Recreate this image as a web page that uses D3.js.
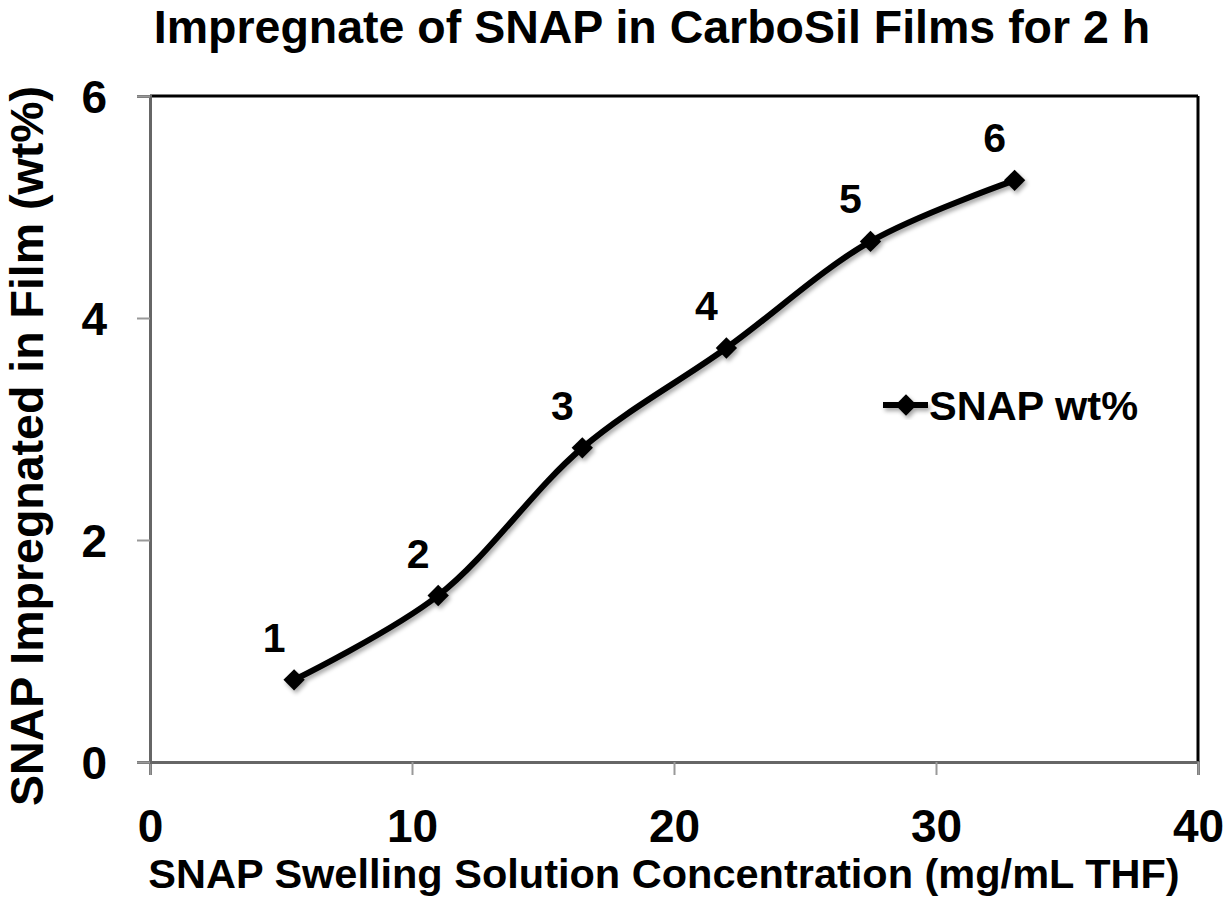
<!DOCTYPE html>
<html>
<head>
<meta charset="utf-8">
<script src="https://cdn.jsdelivr.net/npm/d3@7"></script>
<style>
  body { margin: 0; background: #fff; }
  text { font-family: "Liberation Sans", Arial, sans-serif; font-weight: bold; fill: #000; }
</style>
</head>
<body>
<div id="chart"></div>
<script>
const concentration = [5.5, 11, 16.5, 22, 27.5, 33];
const snapWt = [0.74, 1.5, 2.83, 3.73, 4.69, 5.24];
const pointLabels = ["1", "2", "3", "4", "5", "6"];
const xTicks = [0, 10, 20, 30, 40];
const yTicks = [0, 2, 4, 6];

const width = 1225, height = 900;
const margin = {top: 96, right: 27, bottom: 138, left: 150};

const svg = d3.select("#chart")
  .append("svg")
  .attr("width", width)
  .attr("height", height);

const defs = svg.append("defs");
const shadow = defs.append("filter")
  .attr("id", "shadow")
  .attr("x", "-20%").attr("y", "-20%")
  .attr("width", "140%").attr("height", "140%");
shadow.append("feDropShadow")
  .attr("dx", 2).attr("dy", 3)
  .attr("stdDeviation", 2)
  .attr("flood-color", "#000")
  .attr("flood-opacity", 0.35);

const x = d3.scaleLinear().domain([0, 40]).range([margin.left, width - margin.right]);
const y = d3.scaleLinear().domain([0, 6]).range([height - margin.bottom, margin.top]);

// frame: top and right in black
svg.append("line")
  .attr("x1", x(0)).attr("x2", x(40))
  .attr("y1", y(6)).attr("y2", y(6))
  .attr("stroke", "#000").attr("stroke-width", 3);
svg.append("line")
  .attr("x1", x(40)).attr("x2", x(40))
  .attr("y1", y(6)).attr("y2", y(0))
  .attr("stroke", "#000").attr("stroke-width", 3);

// axes
const xAxis = svg.append("g")
  .attr("transform", `translate(0,${y(0)})`)
  .call(d3.axisBottom(x).tickValues(xTicks).tickSize(13).tickPadding(34).tickFormat(d3.format("d")));
const yAxis = svg.append("g")
  .attr("transform", `translate(${x(0)},0)`)
  .call(d3.axisLeft(y).tickValues(yTicks).tickSize(13).tickPadding(30).tickFormat(d3.format("d")));

[xAxis, yAxis].forEach(g => {
  g.select(".domain").attr("stroke", "#666").attr("stroke-width", 3);
  g.selectAll(".tick line").attr("stroke", "#999").attr("stroke-width", 2);
  g.selectAll(".tick text")
    .attr("font-family", "Liberation Sans, Arial, sans-serif")
    .attr("font-weight", "bold")
    .attr("font-size", 46)
    .attr("fill", "#000");
});
yAxis.selectAll(".tick text").attr("dy", "0.36em");

// series
const data = concentration.map((c, i) => ({x: c, y: snapWt[i], label: pointLabels[i]}));

const line = d3.line()
  .x(d => x(d.x))
  .y(d => y(d.y))
  .curve(d3.curveCatmullRom.alpha(0.5));

const series = svg.append("g").attr("filter", "url(#shadow)");

series.append("path")
  .datum(data)
  .attr("d", line)
  .attr("fill", "none")
  .attr("stroke", "#000")
  .attr("stroke-width", 6)
  .attr("stroke-linejoin", "round");

const diamond = d3.symbol().type(d3.symbolDiamond2).size(290);

series.selectAll("path.marker")
  .data(data)
  .join("path")
  .attr("class", "marker")
  .attr("d", diamond)
  .attr("transform", d => `translate(${x(d.x)},${y(d.y)})`)
  .attr("fill", "#000");

svg.selectAll("text.ptlabel")
  .data(data)
  .join("text")
  .attr("class", "ptlabel")
  .attr("x", d => x(d.x) - 20)
  .attr("y", d => y(d.y) - 28)
  .attr("text-anchor", "middle")
  .attr("font-size", 41)
  .text(d => d.label);

// legend
const legend = svg.append("g").attr("transform", "translate(883,405)");
const lg = legend.append("g").attr("filter", "url(#shadow)");
lg.append("line")
  .attr("x1", 0).attr("x2", 45)
  .attr("stroke", "#000").attr("stroke-width", 6);
lg.append("path")
  .attr("d", diamond)
  .attr("transform", "translate(23,0)")
  .attr("fill", "#000");
legend.append("text")
  .attr("x", 46)
  .attr("y", 0)
  .attr("dy", "0.36em")
  .attr("font-size", 41.5)
  .text("SNAP wt%");

// titles
svg.append("text")
  .attr("x", 652)
  .attr("y", 43)
  .attr("text-anchor", "middle")
  .attr("font-size", 46.5)
  .text("Impregnate of SNAP in CarboSil Films for 2 h");

svg.append("text")
  .attr("x", 664)
  .attr("y", 888)
  .attr("text-anchor", "middle")
  .attr("font-size", 41.5)
  .text("SNAP Swelling Solution Concentration (mg/mL THF)");

svg.append("text")
  .attr("transform", "translate(43,446) rotate(-90)")
  .attr("text-anchor", "middle")
  .attr("font-size", 46.5)
  .text("SNAP Impregnated in Film (wt%)");
</script>
</body>
</html>
